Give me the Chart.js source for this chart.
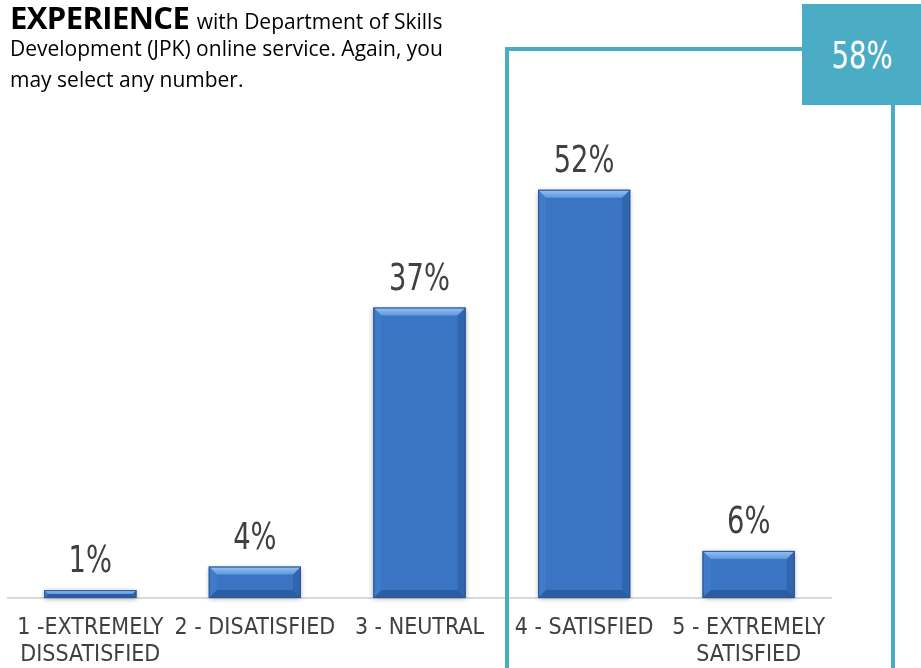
<!DOCTYPE html>
<html>
<head>
<meta charset="utf-8">
<script src="https://cdn.jsdelivr.net/npm/chart.js@4/dist/chart.umd.min.js"></script>
<style>
  html, body { margin: 0; padding: 0; background: #fff; }
  #wrap { position: relative; width: 921px; height: 668px; overflow: hidden; }
  #chart { position: absolute; left: 0; top: 0; }
  .title { position: absolute; left: 10px; color: #000; font-family: "Open Sans", "Noto Sans", sans-serif; font-size: 21px; white-space: nowrap; line-height: 31px; letter-spacing: 0px; }
  .title b { font-size: 31px; letter-spacing: -0.6px; margin-right: 2px; }
  .frame { position: absolute; background: #4BACC6; }
  #total { position: absolute; left: 802px; top: 4px; width: 119px; height: 101px; background: #4BACC6; color: #fff;
           font-family: "DejaVu Sans Condensed", sans-serif; font-size: 38px;
           display: flex; align-items: center; justify-content: center; }
  #total span { display: inline-block; transform: scaleX(0.8); }
</style>
</head>
<body>
<div id="wrap">
  <canvas id="chart" width="921" height="668"></canvas>
  <div class="title" style="top:2px"><b>EXPERIENCE</b> with Department of Skills</div>
  <div class="title" style="top:33px">Development (JPK) online service. Again, you</div>
  <div class="title" style="top:64px">may select any number.</div>
  <!-- bracket around the satisfied categories -->
  <div class="frame" style="left:505px; top:47px; width:4px; height:621px"></div>
  <div class="frame" style="left:505px; top:47px; width:300px; height:4px"></div>
  <div class="frame" style="left:891px; top:100px; width:4px; height:568px"></div>
  <div id="total"><span>58%</span></div>
</div>
<script>
// Response categories (multi-line tick labels)
const categories = [
  ["1 -EXTREMELY", "DISSATISFIED"],
  ["2 - DISATISFIED"],
  ["3 - NEUTRAL"],
  ["4 - SATISFIED"],
  ["5 - EXTREMELY", "SATISFIED"]
];
// Share of respondents, percent
const shares = [1, 4, 37, 52, 6];

const narrow = '"DejaVu Sans Condensed", sans-serif';

// Vertical gradient fill for each bar
function barFill(ctx) {
  const chart = ctx.chart;
  const el = ctx.element;
  if (!el || !chart.chartArea || !isFinite(el.y) || !isFinite(el.base) || el.y === el.base) return '#3A74C2';
  const g = chart.ctx.createLinearGradient(0, el.y, 0, el.base);
  g.addColorStop(0, '#4282D0');
  g.addColorStop(1, '#2F62A8');
  return g;
}

// Bevelled edges drawn on top of each bar
const bevel = {
  id: 'bevel',
  beforeDatasetsDraw(chart) {
    // soft drop shadow behind each bar
    const ctx = chart.ctx;
    chart.getDatasetMeta(0).data.forEach(bar => {
      const l = bar.x - bar.width / 2, t = bar.y, b = bar.base;
      if (![l, t, b].every(isFinite)) return;
      ctx.save();
      ctx.shadowColor = 'rgba(0,0,0,0.35)';
      ctx.shadowBlur = 5;
      ctx.shadowOffsetY = 1;
      ctx.fillStyle = '#2F62A8';
      ctx.fillRect(l, t, bar.width, b - t);
      ctx.restore();
    });
  },
  afterDatasetsDraw(chart) {
    const ctx = chart.ctx;
    chart.getDatasetMeta(0).data.forEach(bar => {
      const l = bar.x - bar.width / 2, r = bar.x + bar.width / 2;
      const t = bar.y, b = bar.base;
      if (![l, r, t, b].every(isFinite)) return;
      const s = Math.min(8, (b - t) / 2, bar.width / 2);
      ctx.save();
      // top face
      let g = ctx.createLinearGradient(0, t, 0, t + s);
      g.addColorStop(0, '#9AC3F2');
      g.addColorStop(1, '#5C98DE');
      ctx.fillStyle = g;
      ctx.beginPath();
      ctx.moveTo(l, t); ctx.lineTo(r, t); ctx.lineTo(r - s, t + s); ctx.lineTo(l + s, t + s); ctx.closePath();
      ctx.fill();
      // left face
      ctx.fillStyle = 'rgba(70,130,210,0.5)';
      ctx.beginPath();
      ctx.moveTo(l, t); ctx.lineTo(l + s, t + s); ctx.lineTo(l + s, b - s); ctx.lineTo(l, b); ctx.closePath();
      ctx.fill();
      // right face
      ctx.fillStyle = 'rgba(30,70,130,0.3)';
      ctx.beginPath();
      ctx.moveTo(r, t); ctx.lineTo(r - s, t + s); ctx.lineTo(r - s, b - s); ctx.lineTo(r, b); ctx.closePath();
      ctx.fill();
      // bottom face
      ctx.fillStyle = 'rgba(25,60,115,0.4)';
      ctx.beginPath();
      ctx.moveTo(l, b); ctx.lineTo(l + s, b - s); ctx.lineTo(r - s, b - s); ctx.lineTo(r, b); ctx.closePath();
      ctx.fill();
      // outline
      ctx.strokeStyle = '#2A5693';
      ctx.lineWidth = 1;
      ctx.strokeRect(l + 0.5, t + 0.5, bar.width - 1, b - t - 1);
      ctx.restore();
    });
  }
};

// Percentage labels above the bars
const valueLabels = {
  id: 'valueLabels',
  afterDatasetsDraw(chart) {
    const ctx = chart.ctx;
    const ds = chart.data.datasets[0];
    chart.getDatasetMeta(0).data.forEach((bar, i) => {
      ctx.save();
      ctx.fillStyle = '#404040';
      ctx.font = '38px ' + narrow;
      ctx.textAlign = 'center';
      ctx.textBaseline = 'alphabetic';
      ctx.translate(bar.x, bar.y - 18);
      ctx.scale(0.8, 1);
      ctx.fillText(ds.data[i] + '%', 0, 0);
      ctx.restore();
    });
  }
};

new Chart(document.getElementById('chart'), {
  type: 'bar',
  data: {
    labels: categories,
    datasets: [{
      data: shares,
      backgroundColor: barFill,
      borderWidth: 0,
      categoryPercentage: 1,
      barPercentage: 0.56
    }]
  },
  options: {
    responsive: false,
    animation: false,
    devicePixelRatio: 1,
    layout: { padding: { left: 8, right: 90, top: 127, bottom: 0 } },
    plugins: { legend: { display: false }, tooltip: { enabled: false } },
    scales: {
      y: { display: false, min: 0, max: 60 },
      x: {
        grid: { display: false, drawTicks: false },
        border: { display: true, color: '#D9D9D9', width: 2 },
        ticks: {
          color: '#404040',
          font: { family: narrow, size: 23, lineHeight: 1.2 },
          padding: 16,
          maxRotation: 0,
          autoSkip: false
        },
        afterFit(scale) { scale.height = 70; }
      }
    }
  },
  plugins: [bevel, valueLabels]
});
</script>
</body>
</html>
